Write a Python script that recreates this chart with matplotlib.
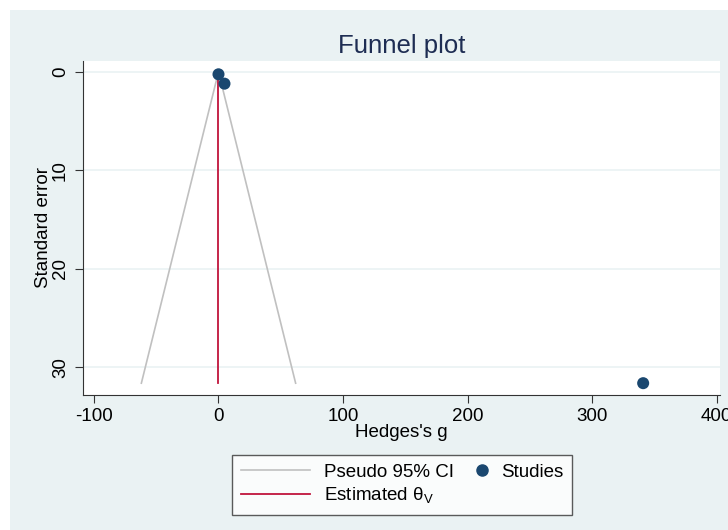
import numpy as np
import matplotlib
matplotlib.use("Agg")
import matplotlib.pyplot as plt
from matplotlib.patches import Rectangle
from matplotlib.lines import Line2D
from matplotlib.legend_handler import HandlerBase

plt.rcParams['font.family'] = ['Liberation Sans', 'DejaVu Sans']
plt.rcParams['mathtext.fontset'] = 'custom'
plt.rcParams['mathtext.rm'] = 'Liberation Sans'
plt.rcParams['axes.unicode_minus'] = False

# study estimates
effect = [0.0, 4.8, 341.0]
se = [0.25, 1.2, 31.6]
theta = 0.0
se_max = 31.6

x_ticks = [-100, 0, 100, 200, 300, 400]
y_ticks = [0, 10, 20, 30]

bg = '#EAF2F3'
navy = '#1A476F'
red = '#C0143C'
grey = '#C0C0C0'


class RightMarker(HandlerBase):
    # marker sits at the right end of the handle box, close to its text
    def create_artists(self, legend, orig, xdescent, ydescent, width, height, fontsize, trans):
        m = Line2D([width - xdescent - 4], [height / 2 - ydescent], ls='none',
                   marker='o', ms=8, color=navy, transform=trans)
        return [m]


fig = plt.figure(figsize=(7.28, 5.30), dpi=100)
fig.patches.append(Rectangle((10/728, 0), 1, 520/530, transform=fig.transFigure,
                             facecolor=bg, edgecolor='none', zorder=-10))

ax = fig.add_axes([83/728, 135/530, 637/728, 334/530])
ax.set_facecolor('white')

# pseudo 95% CI funnel
ci = 1.96 * se_max
ax.plot([theta - ci, theta, theta + ci], [se_max, 0, se_max], color=grey, lw=1.2, zorder=2)
ax.plot([theta, theta], [0, se_max], color=red, lw=1.3, zorder=3)
ax.scatter(effect, se, s=75, color=navy, zorder=4, edgecolors='none')

ax.set_xlim(-108.8, 402.7)
ax.set_ylim(32.8, -1.1)
ax.set_xticks(x_ticks)
ax.set_yticks(y_ticks)
ax.tick_params(labelsize=13.5, length=6, color='#333333')
ax.tick_params(axis='x', pad=3.5)
ax.tick_params(axis='y', pad=4)
for lab in ax.get_yticklabels():
    lab.set_rotation(90)
    lab.set_va('center')
ax.yaxis.grid(True, color=bg, lw=1.2)
ax.set_axisbelow(True)
for side in ['top', 'right']:
    ax.spines[side].set_visible(False)
for side in ['left', 'bottom']:
    ax.spines[side].set_color('#333333')

ax.set_xlabel("Hedges's g", fontsize=13.5, labelpad=-1)
ax.set_ylabel("Standard error", fontsize=13.5, labelpad=0)
ax.set_title("Funnel plot", fontsize=18.5, color='#1E2D53', pad=6)

handles = [Line2D([], [], color=grey, lw=1.2),
           Line2D([], [], color=red, lw=1.3),
           Line2D([], [], ls='none', marker='o', ms=8, color=navy)]
labels = ['Pseudo 95% CI', r'Estimated θ$_{\rm V}$', 'Studies']
leg = fig.legend(handles, labels, ncol=2, loc='upper center',
                 bbox_to_anchor=(402/728, 75/530), borderaxespad=0, fontsize=13.5,
                 frameon=True, fancybox=False, edgecolor='#333333',
                 handlelength=3.68, handletextpad=0.75, columnspacing=-1.9,
                 borderpad=0.45, labelspacing=0.28,
                 handler_map={handles[2]: RightMarker()})
leg.get_frame().set_linewidth(1.0)

fig.savefig('out.png', dpi=100)
